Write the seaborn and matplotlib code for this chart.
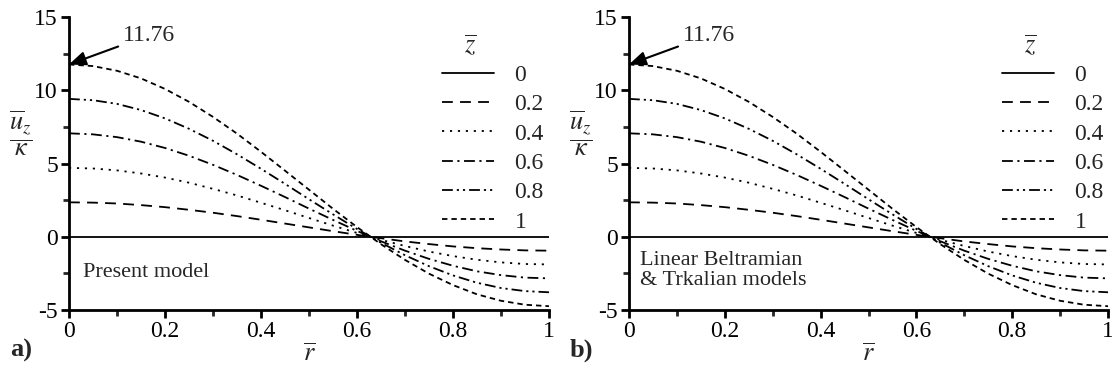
import matplotlib
matplotlib.use("Agg")
import matplotlib.pyplot as plt
import seaborn as sns
import pandas as pd
from matplotlib.ticker import MultipleLocator

sns.set_theme(style="white")
plt.rcParams['font.family'] = ['Liberation Serif', 'DejaVu Serif']
plt.rcParams['mathtext.fontset'] = 'stix'

# radial coordinate r-bar
r_vals = [0.00, 0.05, 0.10, 0.15, 0.20, 0.25, 0.30, 0.35, 0.40, 0.45, 0.50,
          0.55, 0.60, 0.65, 0.70, 0.75, 0.80, 0.85, 0.90, 0.95, 1.00]
z_labels = ["0", "0.2", "0.4", "0.6", "0.8", "1"]

u_z0 = [0.0] * 21
u_z02 = [2.35, 2.33, 2.27, 2.16, 2.02, 1.84, 1.64, 1.41, 1.16, 0.90, 0.64,
         0.38, 0.13, -0.10, -0.32, -0.50, -0.66, -0.78, -0.87, -0.93, -0.95]
u_z04 = [4.70, 4.66, 4.53, 4.32, 4.04, 3.69, 3.27, 2.82, 2.32, 1.81, 1.28,
         0.76, 0.26, -0.21, -0.63, -1.01, -1.32, -1.57, -1.75, -1.86, -1.89]
u_z06 = [7.06, 6.99, 6.80, 6.49, 6.06, 5.53, 4.91, 4.22, 3.48, 2.71, 1.92,
         1.15, 0.40, -0.31, -0.95, -1.51, -1.98, -2.36, -2.62, -2.79, -2.84]
u_z08 = [9.41, 9.32, 9.07, 8.65, 8.08, 7.37, 6.55, 5.63, 4.64, 3.61, 2.56,
         1.53, 0.53, -0.41, -1.26, -2.01, -2.64, -3.14, -3.50, -3.71, -3.79]
u_z10 = [11.76, 11.65, 11.33, 10.81, 10.09, 9.21, 8.18, 7.04, 5.80, 4.51, 3.21,
         1.91, 0.66, -0.51, -1.58, -2.52, -3.30, -3.93, -4.37, -4.64, -4.74]

series = [u_z0, u_z02, u_z04, u_z06, u_z08, u_z10]
peak_label = "11.76"
peak_value = 11.76

rows = []
for lab, vals in zip(z_labels, series):
    for r, u in zip(r_vals, vals):
        rows.append({"r": r, "u": u, "z": lab})
df = pd.DataFrame(rows)

dash_map = {
    "0": "",
    "0.2": (6, 4),
    "0.4": (1.2, 3.2),
    "0.6": (6, 2.5, 1.2, 2.5),
    "0.8": (6, 2.2, 1.2, 2.2, 1.2, 2.2),
    "1": (3, 2.2),
}

fig = plt.figure(figsize=(11.12, 3.73), dpi=100)
W, H = 1112, 373
axes_px = [(69, 549), (629, 1108)]
y_top, y_bot = 17, 310
ax_list = []
for (x0, x1) in axes_px:
    ax = fig.add_axes([x0 / W, 1 - y_bot / H, (x1 - x0) / W, (y_bot - y_top) / H])
    ax_list.append(ax)

fs = 17
for i, ax in enumerate(ax_list):
    sns.lineplot(data=df, x="r", y="u", style="z", style_order=z_labels,
                 dashes=dash_map, color="black", linewidth=1.3, ax=ax,
                 legend=True, sort=False)
    ax.set_xlim(0, 1)
    ax.set_ylim(-5, 15)
    ax.set_facecolor("white")
    for s in ["top", "right"]:
        ax.spines[s].set_visible(False)
    for s in ["left", "bottom"]:
        ax.spines[s].set_color("black")
        ax.spines[s].set_linewidth(2.0)
    ax.xaxis.set_major_locator(MultipleLocator(0.2))
    ax.xaxis.set_minor_locator(MultipleLocator(0.1))
    ax.yaxis.set_major_locator(MultipleLocator(5))
    ax.yaxis.set_minor_locator(MultipleLocator(2.5))
    ax.tick_params(which="major", direction="out", length=6, width=2,
                   labelsize=fs, colors="black", left=True, bottom=True, pad=2)
    ax.tick_params(which="minor", direction="out", length=4, width=2,
                   left=True, bottom=True)
    ax.set_xticks([0, 0.2, 0.4, 0.6, 0.8, 1.0])
    ax.set_xticklabels(["0", "0.2", "0.4", "0.6", "0.8", "1"])
    ax.set_yticks([-5, 0, 5, 10, 15])
    ax.set_yticklabels(["-5", "0", "5", "10", "15"])
    ax.set_xlabel(r"$\overline{r}$", fontsize=fs + 2, labelpad=1)
    ax.set_ylabel("")
    for sp in ax.spines.values():
        sp.set_zorder(5)

    ax.annotate(peak_label, xy=(0, peak_value), xytext=(0.112, 13.75),
                fontsize=fs, ha="left", va="center",
                arrowprops=dict(arrowstyle="-|>,head_length=0.6,head_width=0.25",
                                color="black", lw=1.5, shrinkA=1, shrinkB=0),
                annotation_clip=False)

    handles, labels = ax.get_legend_handles_labels()
    leg = ax.legend(handles=handles, labels=labels,
                    frameon=False, fontsize=fs,
                    handlelength=2.2, handletextpad=0.85, labelspacing=0.33,
                    loc="upper left",
                    bbox_to_anchor=((axes_px[i][0] + 364) / W, 1 - 55 / H),
                    bbox_transform=fig.transFigure, borderaxespad=0)
    for lh in leg.get_lines():
        lh.set_linewidth(1.3)
        lh.set_color("black")
    fig.text((axes_px[i][0] + 401) / W, 1 - 45 / H, r"$\overline{z}$",
             fontsize=fs + 2, ha="center", va="center")

    fig.text((axes_px[i][0] - 48) / W, 1 - 133 / H,
             r"$\dfrac{\overline{u}_z}{\kappa}$", fontsize=fs + 2,
             ha="center", va="center")

ax_list[0].text(0.03, -2.45, "Present model", fontsize=16, ha="left", va="center")
ax_list[1].text(0.023, -2.3, "Linear Beltramian\n& Trkalian models", fontsize=16,
                ha="left", va="center", linespacing=1.05)

fig.text(10 / W, 1 - 350 / H, "a)", fontsize=fs + 2, fontweight="bold",
         ha="left", va="center")
fig.text(570 / W, 1 - 350 / H, "b)", fontsize=fs + 2, fontweight="bold",
         ha="left", va="center")

fig.savefig("out.png", dpi=100, facecolor="white")
